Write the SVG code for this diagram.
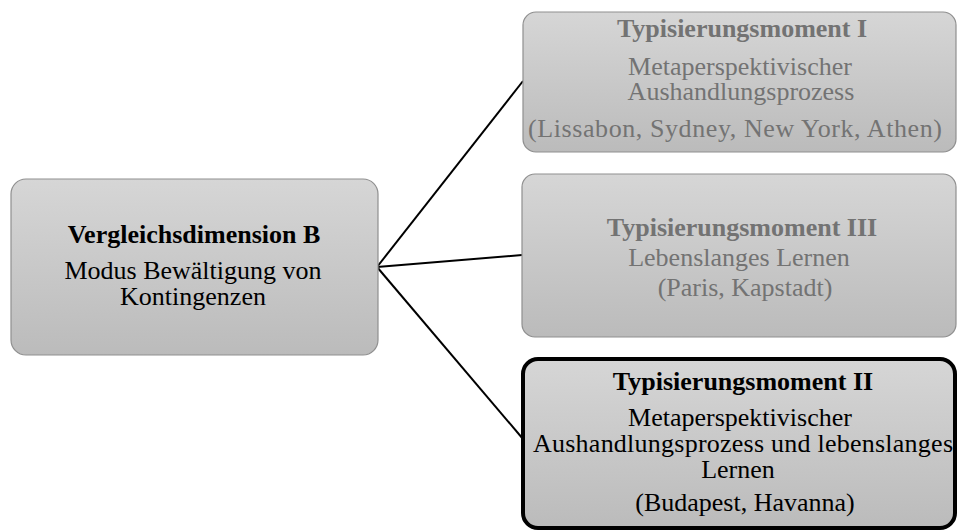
<svg xmlns="http://www.w3.org/2000/svg" width="957" height="530" viewBox="0 0 957 530">
  <style>
    text { font-family: "Liberation Serif", "Times New Roman", serif; font-size: 26px; text-anchor: middle; }
    .b { font-weight: bold; }
    .dim { fill: #737373; }
    .dark { fill: #000000; }
    .box { fill: url(#shade); stroke: #8f8f8f; stroke-width: 1.2; }
    .sel { fill: url(#shade); stroke: #000000; stroke-width: 4; }
    .conn { stroke: #000000; stroke-width: 2; fill: none; }
  </style>
  <defs>
    <linearGradient id="shade" x1="0" y1="0" x2="0" y2="1">
      <stop offset="0" stop-color="#d6d6d6"/>
      <stop offset="1" stop-color="#bbbbbb"/>
    </linearGradient>
  </defs>

  <g id="connectors">
    <line class="conn" x1="377" y1="267" x2="523" y2="81"/>
    <line class="conn" x1="377" y1="267" x2="522" y2="255"/>
    <line class="conn" x1="377" y1="267" x2="523" y2="439"/>
  </g>

  <g id="dimension-b">
    <rect class="box" x="11" y="179" width="367" height="176" rx="15"/>
    <text class="b dark" x="194" y="243">Vergleichsdimension B</text>
    <text class="dark" x="193" y="279">Modus Bewältigung von</text>
    <text class="dark" x="193" y="305">Kontingenzen</text>
  </g>

  <g id="moment-1">
    <rect class="box" x="523" y="12" width="433" height="140" rx="13"/>
    <text class="b dim" x="742" y="37">Typisierungsmoment I</text>
    <text class="dim" x="740" y="75">Metaperspektivischer</text>
    <text class="dim" x="741" y="100">Aushandlungsprozess</text>
    <text class="dim" x="735" y="137" textLength="414" lengthAdjust="spacing">(Lissabon, Sydney, New York, Athen)</text>
  </g>

  <g id="moment-3">
    <rect class="box" x="522" y="174" width="434" height="163" rx="13"/>
    <text class="b dim" x="742" y="236">Typisierungsmoment III</text>
    <text class="dim" x="739" y="266">Lebenslanges Lernen</text>
    <text class="dim" x="745" y="296">(Paris, Kapstadt)</text>
  </g>

  <g id="moment-2">
    <rect class="sel" x="523" y="359" width="432" height="169" rx="15"/>
    <text class="b dark" x="743" y="390">Typisierungsmoment II</text>
    <text class="dark" x="740" y="426">Metaperspektivischer</text>
    <text class="dark" x="743" y="452" textLength="420" lengthAdjust="spacing">Aushandlungsprozess und lebenslanges</text>
    <text class="dark" x="738" y="478">Lernen</text>
    <text class="dark" x="745" y="511">(Budapest, Havanna)</text>
  </g>
</svg>
